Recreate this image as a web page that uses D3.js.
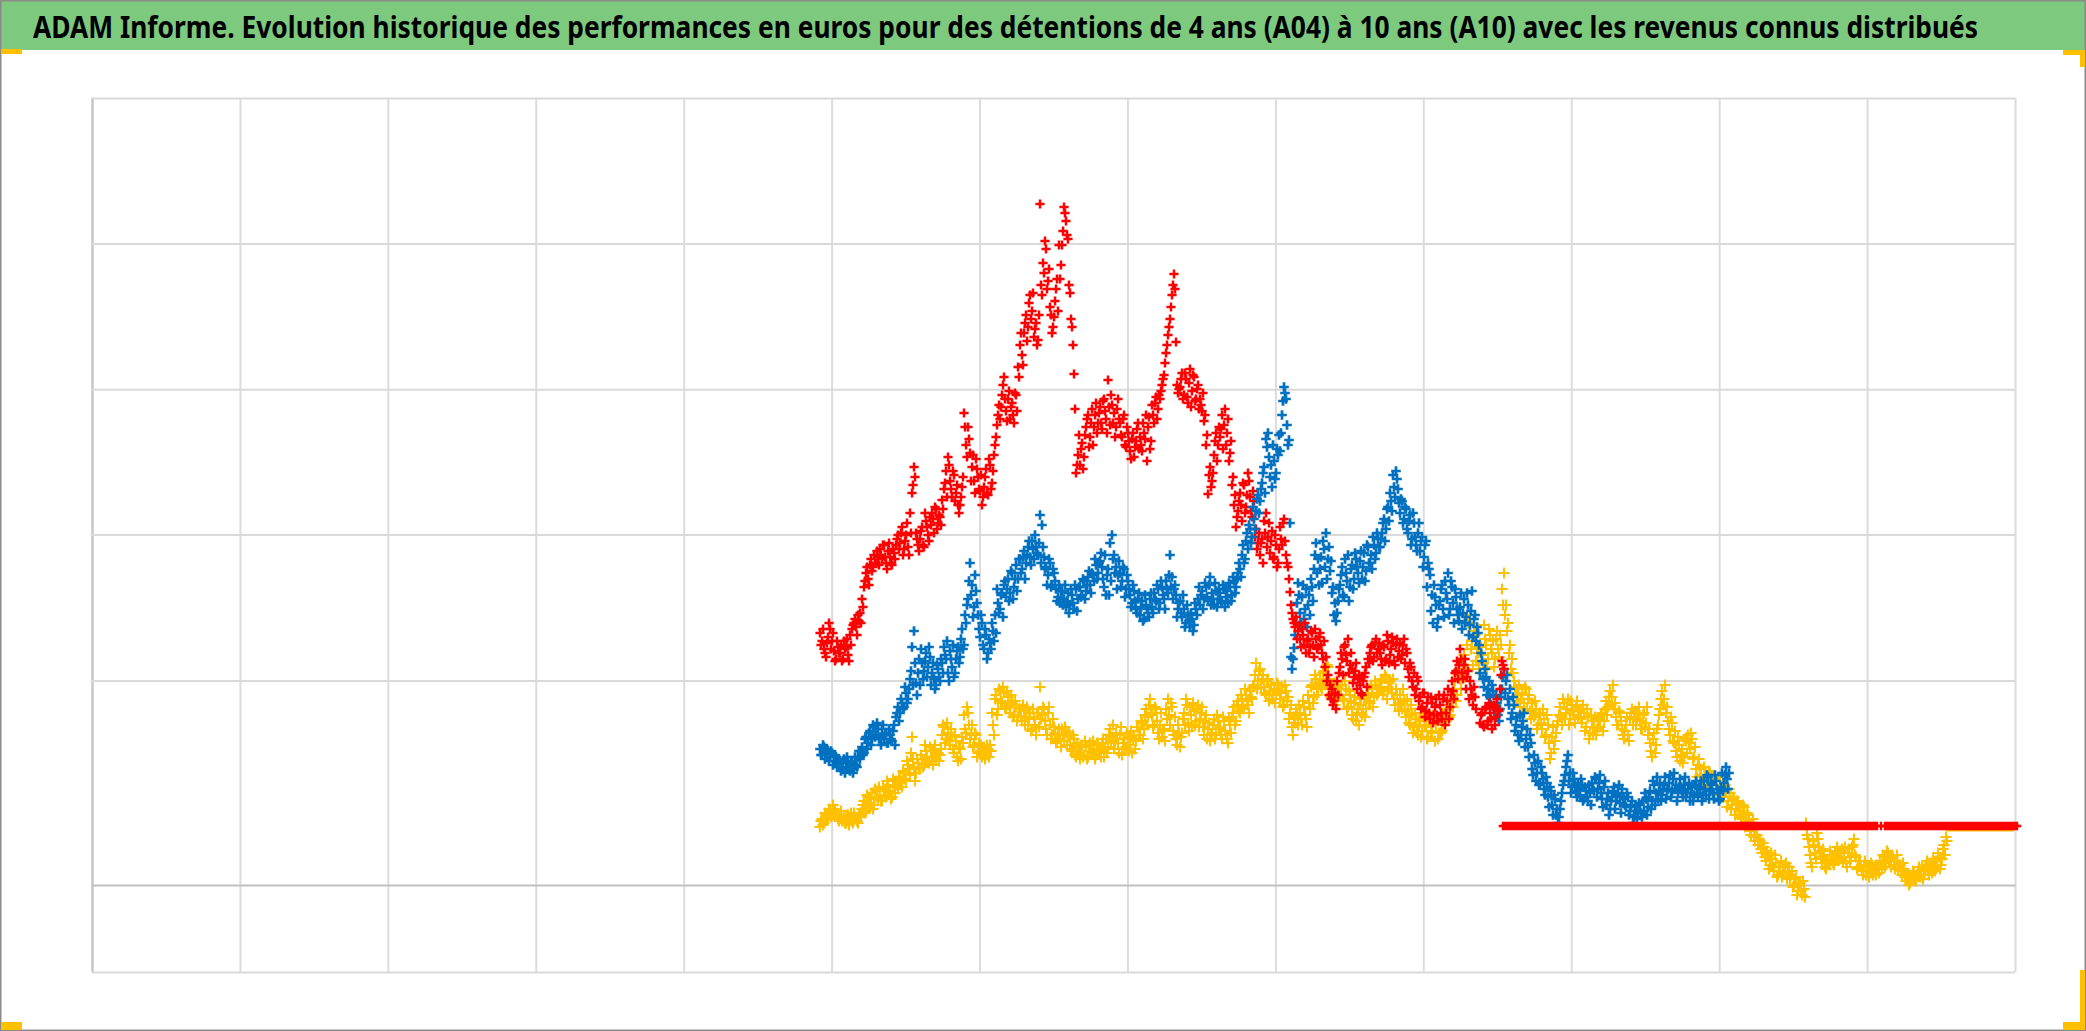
<!DOCTYPE html>
<html lang="fr">
<head>
<meta charset="utf-8">
<script src="https://cdn.jsdelivr.net/npm/d3@7"></script>
<style>
html,body{margin:0;padding:0;background:#fff;overflow:hidden}
svg{display:block}
</style>
</head>
<body>
<svg id="chart" width="2086" height="1031"></svg>
<script>
const titleText = "ADAM Informe. Evolution historique des performances en euros pour des détentions de 4 ans (A04) à 10 ans (A10) avec les revenus connus distribués";
const xTicks = [0,73.96,147.92,221.88,295.85,369.81,443.77,517.73,591.69,665.65,739.62,813.58,887.54,961.5];
const yTicks = [787,641.4,495.7,350.5,204.5,-87];
const seriesStart = 364;
const secondStart = 364.5;
const flatStartA10 = 705.5;
const flatStartA04 = 927.5;

const perfA04 = [
58,66,62,70,68,74,70,76,72,66,
70,64,68,62,70,66,64,72,66,62,
72,76,84,74,88,82,92,80,94,86,
90,84,96,88,100,92,88,98,104,96,
108,98,112,104,120,110,148,118,112,122,
116,126,120,134,124,138,128,136,126,132,
130,150,158,146,152,140,148,132,144,124,
136,148,170,152,172,146,160,140,150,132,
134,128,138,130,136,140,172,150,190,176,
194,182,192,176,188,172,182,170,178,168,
176,164,174,168,160,172,156,168,150,172,
198,170,176,156,172,160,150,158,142,150,
146,156,144,154,148,140,134,146,128,138,
126,140,130,138,128,142,132,136,130,140,
134,142,128,146,138,156,148,136,152,142,
150,130,146,138,148,140,132,150,144,158,
150,162,156,176,168,186,170,160,176,152,
160,148,156,176,186,160,178,150,146,160,
138,152,172,186,162,178,158,174,164,180,
166,178,150,170,156,144,152,166,150,164,
158,146,164,150,142,160,168,178,164,184,
172,186,176,190,180,194,186,200,222,204,
216,206,198,190,206,194,186,196,190,200,
186,198,180,194,188,172,158,168,176,160,
172,160,178,166,190,176,200,188,206,196,
206,196,214,204,218,198,192,202,186,198,
190,200,184,196,178,190,170,182,164,176,
180,170,186,176,190,182,196,188,200,192,
196,206,194,208,198,204,192,186,196,180,
190,176,184,168,176,160,170,158,166,150,
164,154,170,158,148,164,152,168,160,146,
166,154,172,164,180,170,186,196,184,210,
206,220,230,216,262,270,244,254,224,232,
212,230,260,240,226,250,232,218,246,236,
250,296,312,280,262,240,226,204,196,190,
178,192,182,196,186,174,182,168,176,160,
172,156,166,150,160,126,148,136,152,164,
178,160,182,172,186,166,180,170,178,168,
176,162,172,158,168,152,164,158,150,166,
158,172,164,184,178,194,188,176,168,160,
172,156,146,160,150,166,176,168,160,172,
164,156,172,162,150,142,128,152,140,160,
176,194,186,172,164,150,162,142,134,148,
124,136,128,144,150,136,146,128,116,120,
110,104,118,108,100,112,96,106,100,92,
104,96,88,94,84,92,80,88,76,82,
74,66,78,62,70,54,60,48,56,40,
44,32,38,24,30,20,26,14,22,10,
18,8,14,22,12,6,14,0,8,-6,
2,-10,-4,62,46,30,18,40,26,46,
34,22,30,16,24,34,26,20,28,34,
26,36,28,22,32,24,38,46,28,18,
24,14,20,10,18,12,20,14,10,18,
24,16,28,22,32,26,30,20,24,16,
20,10,16,4,10,2,8,12,4,14,
8,18,10,20,14,22,12,18,24,32,16,26,40,48
];
const perfA04b = [
64,60,72,66,76,68,80,74,70,64,
74,66,62,70,60,72,62,68,64,70,
68,80,72,90,78,86,76,96,88,98,
84,98,90,104,94,86,106,92,100,108,
102,114,106,124,116,132,126,104,126,116,
130,118,140,128,122,134,120,140,130,124,
136,160,142,162,144,156,136,150,128,138,
126,142,156,178,160,150,138,152,128,142,
140,132,126,140,128,134,160,186,170,196,
184,198,178,194,180,190,168,184,164,176,
168,180,160,178,166,154,176,160,172,158,
166,178,164,150,178,146,166,152,144,156,
138,150,158,140,152,136,150,130,142,132,
138,128,144,126,140,134,144,126,142,134,
128,146,136,132,150,144,160,142,146,132,
158,142,136,152,134,154,146,136,158,150,
164,146,170,160,180,172,158,178,164,146,
172,154,144,166,170,182,154,168,140,152,
148,166,160,180,154,170,182,160,176,158,
172,158,164,146,162,150,160,146,170,156,
150,168,154,146,166,152,172,160,180,174,
190,178,196,184,172,188,198,210,196,214,
198,210,192,204,184,200,190,182,202,194,
192,178,200,184,166,180,150,162,170,180,
166,184,170,158,182,198,182,210,190,202,
198,212,200,220,206,188,196,180,204,190,
196,186,204,176,194,184,166,188,172,160,
186,176,168,192,184,200,178,204,190,198,
204,190,210,186,202,196,206,180,190,174,
182,196,174,186,162,180,152,172,154,160,
148,168,160,146,170,154,170,144,166,152,
152,172,160,176,168,190,178,204,190,216,
196,226,208,240,250,236,220,250,238,216,
238,222,246,216,256,236,244,226,254,228,
240,280,270,254,232,216,212,198,184,200,
186,172,198,176,190,166,172,184,156,170,
162,176,148,170,142,132,158,144,160,170,
168,186,166,176,160,184,174,162,184,174,
166,180,154,176,146,170,150,168,156,158,
170,154,176,170,188,180,200,182,160,174,
164,150,154,168,144,172,160,174,166,178,
156,170,158,178,156,134,146,132,156,170,
186,180,200,178,156,168,144,154,128,140,
130,122,146,132,142,152,126,138,108,126,
116,100,110,98,114,104,90,108,96,86,
98,88,100,78,96,76,86,70,84,74,
68,80,58,72,64,50,66,44,50,46,
36,42,28,34,16,32,18,30,8,18,
24,12,20,6,18,10,-2,6,-10,2,
-6,4,-12,50,38,22,44,32,52,38,
28,36,18,26,20,30,22,32,38,26,
34,24,38,18,36,28,40,30,16,24,
18,10,24,14,8,22,10,16,20,12,
20,30,18,34,24,18,28,16,30,20,
14,22,8,12,0,6,14,6,10,18,
14,6,16,24,10,18,26,14,20,28,20,36,30,44
];

const perfA07 = [
136,130,138,132,134,128,132,124,128,122,
124,116,126,118,122,114,124,116,120,128,
126,138,132,148,142,154,146,158,150,156,
148,156,146,152,142,150,144,160,168,178,
172,182,178,192,186,206,238,254,202,212,
200,222,214,232,218,228,212,206,200,216,
204,222,238,226,212,234,218,208,226,238,
228,256,240,262,286,322,300,278,294,270,
248,262,236,250,232,242,262,244,252,282,
276,292,300,288,306,292,312,298,320,306,
326,316,334,322,338,328,344,326,338,330,
370,360,328,318,310,322,300,312,296,288,
282,294,286,278,292,280,290,276,296,286,
298,290,304,294,308,300,312,304,320,312,
324,318,298,290,316,342,350,330,318,310,
312,304,316,296,304,290,282,294,276,286,
270,284,266,280,272,286,278,292,284,296,
282,298,286,304,292,330,308,296,290,276,
284,268,276,262,270,258,266,260,276,286,
280,294,286,298,284,308,292,280,294,286,
292,282,296,288,282,298,290,304,298,312,
316,330,322,344,336,356,348,366,374,390,
384,402,418,446,452,408,398,424,412,430,
434,470,498,486,440,362,216,237,262,302,
272,288,266,296,280,270,298,316,342,326,
316,302,336,352,326,314,292,270,264,284,
300,318,288,312,330,298,320,306,326,312,
324,306,332,314,338,322,316,340,332,346,
338,352,366,356,378,392,374,398,414,396,
372,384,366,376,352,370,346,362,340,352,
334,348,328,344,322,310,290,300,280,266,
284,300,268,292,312,276,298,262,288,270,
278,256,286,268,280,260,294,266,244,252,
212,224,198,208,196,188,200,176,190,170,
176,196,216,204,186,196,172,180,160,150,
170,158,172,146,138,150,116,130,104,124,
102,112,96,108,88,98,80,90,70,62,
76,92,104,118,130,112,98,106,94,102,
90,100,86,94,84,92,102,94,106,96,
110,86,98,80,92,76,88,98,84,92,
82,96,86,78,88,74,84,68,78,72,
80,68,74,86,78,94,84,100,92,86,
102,90,100,86,96,110,94,112,100,92,
106,94,100,88,96,84,98,90,104,88,
96,84,104,90,108,94,100,86,104,92,
86,112,102,118,96
];
const perfA07b = [
130,140,126,136,124,134,120,130,118,126,
114,124,112,128,116,122,112,128,118,134,
134,130,146,136,152,140,160,148,162,146,
140,160,150,142,156,146,154,140,172,164,
186,176,198,182,196,214,200,222,190,226,
236,206,224,208,238,200,222,196,220,208,
226,212,230,244,204,226,240,212,234,222,
246,236,270,280,304,290,268,310,282,256,
270,240,256,226,246,236,254,270,296,272,
290,268,304,296,284,314,286,306,294,326,
312,328,306,330,344,320,336,350,332,342,
322,338,316,300,326,298,316,304,284,300,
294,280,300,284,272,296,282,300,274,298,
288,306,286,300,314,292,310,326,306,322,
332,306,330,310,290,304,326,312,296,324,
298,318,288,310,296,278,300,284,272,292,
278,264,290,276,268,292,272,286,300,276,
304,290,276,296,310,298,286,300,268,282,
272,290,258,280,264,272,254,282,270,298,
290,276,302,288,300,280,286,302,278,296,
284,300,278,294,302,284,308,292,306,322,
308,340,326,352,360,342,378,356,386,372,
396,412,392,438,428,420,440,406,436,450,
452,484,492,460,445,228,226,250,282,290,
262,300,276,258,290,306,284,330,312,300,
328,344,318,306,338,324,298,282,272,296,
310,290,326,304,284,316,296,332,318,302,
334,318,304,340,322,330,348,326,352,338,
346,362,344,376,364,384,410,388,406,382,
386,362,378,356,364,340,372,348,334,362,
344,318,340,298,316,274,262,288,258,280,
296,276,304,286,270,304,282,296,276,264,
292,272,262,292,250,274,248,270,258,240,
232,206,216,190,204,180,194,168,182,164,
188,208,192,210,180,166,188,154,168,144,
150,164,138,156,128,142,110,122,112,100,
118,106,90,102,78,94,70,86,76,68,
84,100,110,124,104,92,112,100,88,96,
106,84,98,88,100,80,96,108,88,102,
92,78,104,86,70,84,94,76,90,100,
72,88,80,92,70,80,62,74,66,82,
72,84,92,70,88,76,104,80,108,94,
84,96,108,94,102,88,106,96,84,98,
98,88,108,92,102,92,84,100,92,98,
104,90,96,110,86,102,92,110,96,84,
98,94,110,106,112
];

const perfA10 = [
252,244,236,228,248,256,244,234,226,238,
232,224,244,238,230,250,256,262,258,270,
272,286,298,312,306,320,314,330,322,328,
336,326,340,322,334,328,320,332,340,350,
342,358,336,350,338,372,392,418,352,340,
346,358,338,364,350,368,372,352,376,362,
368,385,396,414,428,404,388,410,392,380,
380,398,472,440,458,432,418,404,426,408,
394,380,398,416,390,420,402,430,448,470,
466,490,508,474,486,466,482,462,490,518,
540,530,552,570,558,590,574,548,562,545,
681,590,612,636,604,578,552,568,596,574,
606,640,678,664,646,592,558,511,412,430,
420,442,428,458,470,448,476,458,482,462,
478,456,486,466,505,460,480,472,458,486,
462,448,470,438,452,434,446,428,444,462,
448,434,452,470,458,436,480,462,488,476,
486,500,510,532,550,566,590,611,543,492,
498,512,490,506,482,516,494,508,486,500,
486,474,464,440,391,418,404,430,452,440,
448,470,460,440,466,432,400,380,358,374,
392,364,400,378,412,388,368,384,356,342,
330,346,364,372,348,332,354,328,340,322,
358,340,366,330,318,293,272,262,268,254,
246,256,240,232,246,238,252,228,246,238,
252,232,244,228,210,200,196,184,176,190,
218,226,238,230,246,220,216,208,222,206,
200,190,208,218,226,232,240,228,246,236,
232,220,238,226,244,230,248,224,240,228,
242,230,246,236,216,222,204,212,196,204,
188,178,192,174,188,166,182,170,186,164,
180,166,190,172,196,178,204,186,214,206,
236,212,220,196,214,204,190,198,176,null,
162,172,158,178,164,172,156,180,168,176,
196,224,216
];
const perfA10b = [
240,256,232,242,262,236,252,224,244,232,
240,226,236,246,224,240,260,266,250,264,
262,278,304,318,300,326,318,322,334,320,
330,340,328,316,342,322,336,326,346,336,
352,330,344,362,330,352,400,408,346,334,
354,340,372,358,344,360,366,378,356,370,
360,376,402,388,420,396,414,384,400,372,
388,408,458,428,446,404,430,392,416,396,
410,388,408,392,426,396,414,440,460,480,
478,500,486,464,494,478,470,492,474,508,
552,520,562,544,582,566,592,556,540,570,
600,622,644,596,616,570,558,584,606,640,
620,654,672,650,600,566,540,476,420,450,
436,416,450,466,438,462,440,470,452,472,
462,484,474,452,478,490,462,448,476,466,
450,466,440,458,444,426,452,438,456,436,
440,462,446,424,468,444,470,482,466,490,
494,506,522,540,558,578,600,596,500,496,
506,486,512,488,502,478,510,484,496,476,
480,492,470,450,410,398,412,444,424,458,
456,436,476,452,424,444,408,390,368,384,
380,402,372,390,404,374,394,348,336,352,
342,322,352,338,362,344,326,350,318,336,
346,362,344,322,306,280,266,258,246,260,
238,250,262,244,232,254,240,256,236,248,
240,226,218,204,190,186,180,192,204,212,
232,210,240,224,212,232,202,214,196,210,
192,204,212,198,222,238,224,242,232,242,
226,240,224,250,222,236,242,220,246,234,
226,240,222,232,208,218,198,190,208,184,
176,192,168,182,172,188,162,178,170,190,
172,186,160,184,166,190,194,212,224,220,
226,206,226,208,186,196,180,188,null,null,
170,160,176,160,182,166,178,160,186,174,
210,220
];

const revenusA04 = [
58,58,58,58,58,58,58,58,58,58,58,58,58,58,58,58,58,
58,58,58,58,58,58,58,58,58,58,58,58,58,58,58,58,58
];

const revenusA10 = [
59,59,59,59,59,59,59,59,59,59,59,59,59,59,59,59,59,59,59,59,
59,59,59,59,59,59,59,59,59,59,59,59,59,59,59,59,59,59,59,59,
59,59,59,59,59,59,59,59,59,59,59,59,59,59,59,59,59,59,59,59,
59,59,59,59,59,59,59,59,59,59,59,59,59,59,59,59,59,59,59,59,
59,59,59,59,59,59,59,59,59,59,59,59,59,59,59,59,59,59,59,59,
59,59,59,59,59,59,59,59,59,59,59,59,59,59,59,59,59,59,59,59,
59,59,59,59,59,59,59,59,59,59,59,59,59,59,59,59,59,59,59,59,
59,59,59,59,59,59,59,59,59,59,59,59,59,59,59,59,59,59,59,59,
59,59,59,59,59,59,59,59,59,59,59,59,59,59,59,59,59,59,59,59,
59,59,59,59,59,59,59,59,null,59,null,59,59,59,59,59,59,59,59,59,
59,59,59,59,59,59,59,59,59,59,59,59,59,59,59,59,59,59,59,59,
59,59,59,59,59,59,59,59,59,59,59,59,59,59,59,59,59,59,59,59,
59,59,59,59,59,59,59,59,59,59,59,59,59,59,59,59,59,59
];

const svg = d3.select("#chart");
const x = d3.scaleLinear().domain([0, 961.5]).range([92, 2015]);
const y = d3.scaleLinear().domain([-87, 787]).range([972, 98]);

svg.append("rect").attr("x",0).attr("y",0).attr("width",2086).attr("height",50).attr("fill","#7DCA7F");

const gx = svg.append("g").attr("transform","translate(0,972)")
  .call(d3.axisBottom(x).tickValues(xTicks).tickFormat("").tickSize(-874).tickSizeOuter(0));
const gy = svg.append("g").attr("transform","translate(92,0)")
  .call(d3.axisLeft(y).tickValues(yTicks).tickFormat("").tickSize(-1923).tickSizeOuter(0));
gx.select(".domain").remove();
gy.select(".domain").remove();
gx.selectAll("line").attr("stroke","#dcdcdc").attr("stroke-width",2);
gy.selectAll("line").attr("stroke","#d9d9d9").attr("stroke-width",2);
gx.selectAll(".tick").filter(d => d === 0).select("line").attr("stroke","#c4c4c4").attr("stroke-width",2.4);
const gz = svg.append("g").attr("transform","translate(0," + y(0) + ")")
  .call(d3.axisBottom(x).tickValues([]).tickSize(0));
gz.select(".domain").attr("stroke","#c0c0c0").attr("stroke-width",2);

function plus(h){ return `M${-h},0H${h}M0,${-h}V${h}`; }
function drawSeries(values, start, style, from = -Infinity, to = Infinity){
  const rows = values.map((v,i)=>({i:start+i,v})).filter(d=>d.v!==null && d.i>=from && d.i<to);
  svg.append("g").selectAll("path").data(rows).join("path")
    .attr("transform", d=>`translate(${x(d.i)},${y(d.v)})`)
    .attr("d", plus(style[1])).attr("fill","none").attr("stroke",style[0]).attr("stroke-width",style[2]);
}
function drawPair(a, b, style, from, to){
  drawSeries(a, seriesStart, style, from, to);
  drawSeries(b, secondStart, style, from, to);
}
const yellow = ["#FFC000", 5.6, 2.1], blue = ["#0070C0", 4.8, 2.7], red = ["#FF0000", 4.6, 2.5];
const redBlueSwitch = 589;

drawSeries(revenusA04, flatStartA04, ["#FFC000", 4.5, 2]);
drawPair(perfA04, perfA04b, yellow);
drawPair(perfA10, perfA10b, red, undefined, redBlueSwitch);
drawPair(perfA07, perfA07b, blue);
drawPair(perfA10, perfA10b, red, redBlueSwitch, undefined);
drawSeries(revenusA10, flatStartA10, ["#FF0000", 4.3, 2.4]);

const title = svg.append("text").attr("x",0).attr("y",0)
  .attr("font-family","'Noto Sans',sans-serif")
  .attr("font-weight",700).attr("font-size",31).attr("fill","#000")
  .text(titleText);
const titleLen = title.node().getComputedTextLength();
title.attr("transform",`translate(33,38) scale(${1946/titleLen},1)`);

svg.append("rect").attr("x",0.75).attr("y",0.75).attr("width",2084.5).attr("height",1029.5)
  .attr("fill","none").attr("stroke","#8a8a8a").attr("stroke-width",1.5);

const orange = "#FFC000";
[[1,49,21,5],[1,1022,21,8],[2063,50,22,5],[2080,50,5,17],[2080,970,5,60],[2063,1022,22,8]].forEach(r=>{
  svg.append("rect").attr("x",r[0]).attr("y",r[1]).attr("width",r[2]).attr("height",r[3]).attr("fill",orange);
});
</script>
</body>
</html>
